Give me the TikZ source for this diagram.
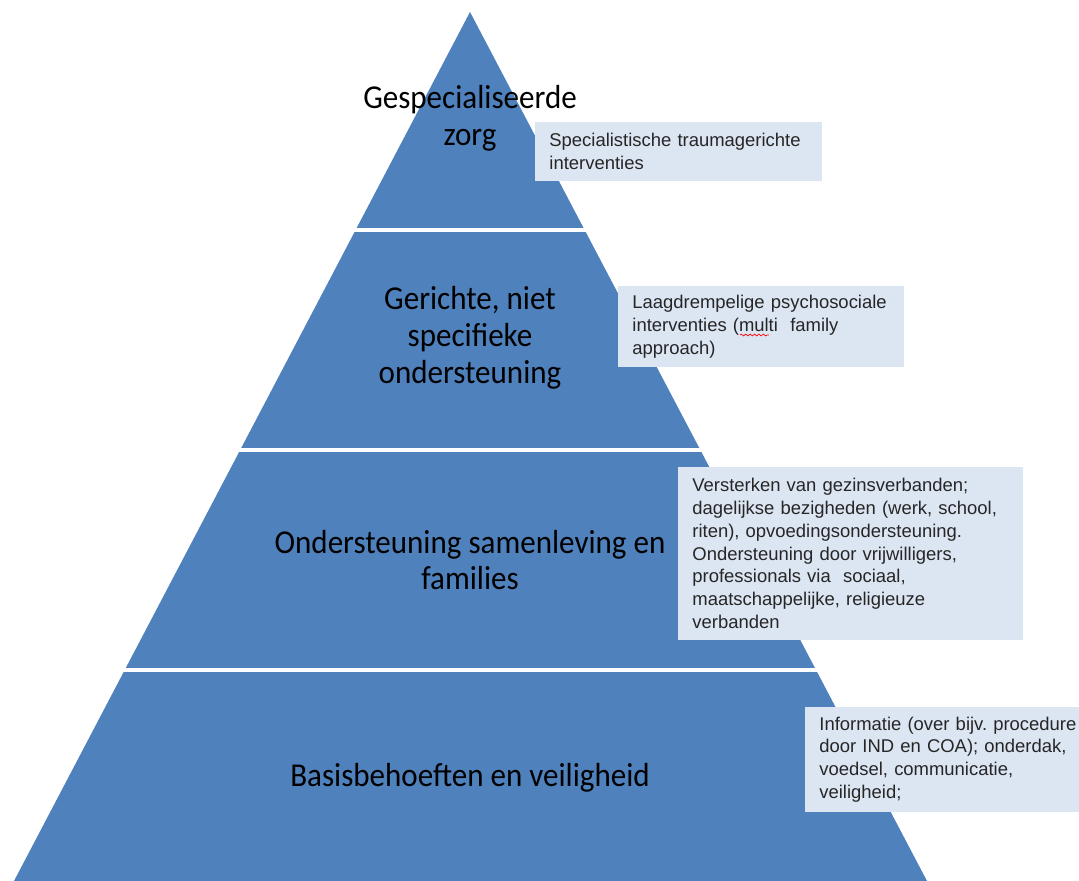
\documentclass[tikz,border=0pt]{standalone}
\usepackage{fontspec}
\setmainfont{Carlito}
\newfontfamily\labelfont[FakeStretch=0.93]{Carlito}
\newfontfamily\arialfont{Liberation Sans}
\newcommand{\boxfont}{\arialfont\fontsize{10.5}{13}\selectfont\frenchspacing\hyphenpenalty 10000\relax}
\usepackage{xcolor}
\usetikzlibrary{positioning,decorations.pathmorphing}
\definecolor{pyrblue}{HTML}{4F81BD}
\definecolor{boxblue}{HTML}{DCE6F2}

\begin{document}
\begin{tikzpicture}[x=0.02cm,y=-0.02cm,
    layer/.style={font=\labelfont\fontsize{19}{21}\selectfont, align=center, text=black},
    infobox/.style={fill=boxblue, anchor=west, align=left, inner xsep=8pt,
      font=\boxfont, text=black!85}]
    \useasboundingbox (0,0) rectangle (1079,881);
    \clip (0,0) rectangle (1079,881);
    % Pyramid: apex and base corners (pixels)
    \def\apexx{470}
    \def\apexy{12}
    \def\baseL{14}
    \def\baseR{927}
    \fill[pyrblue] (\apexx,\apexy) -- (\baseR,881) -- (\baseL,881) -- cycle;
    % gaps between the layers
    \foreach \y in {230,450,670}
      \draw[white, line width=1.8pt] (0,\y) -- (1079,\y);

    % Layer labels
    \node[layer] (zorg) at (\apexx,118) {Gespecialiseerde\\zorg};
    \node[layer] (gericht) at (\apexx,338) {Gerichte, niet\\specifieke\\ondersteuning};
    \node[layer] (samen) at (\apexx,560) {Ondersteuning samenleving en\\families};
    \node[layer] (basis) at (\apexx,778) {Basisbehoeften en veiligheid};

    % Side boxes
    \node[infobox, text width=5.18cm, minimum height=1.18cm] (trauma) at (535,151.5)
      {Specialistische traumagerichte\\interventies};
    \node[infobox, text width=5.16cm, minimum height=1.62cm] (psycho) at (618,326.5)
      {Laagdrempelige psychosociale\\interventies (multi\ \ family\\approach)};
    \node[infobox, text width=6.34cm, minimum height=3.46cm] (gezin) at (678,553.5)
      {Versterken van gezinsverbanden;\\dagelijkse bezigheden (werk, school,\\riten), opvoedingsondersteuning.\\Ondersteuning door vrijwilligers,\\professionals via\ \ sociaal,\\maatschappelijke, religieuze\\verbanden};
    \node[infobox, text width=5.6cm, minimum height=2.1cm] (info) at (805,759.5)
      {Informatie (over bijv. procedure\\door IND en COA); onderdak,\\voedsel, communicatie,\\veiligheid;};
    % spelling mark under 'multi'
    \draw[red, decorate, decoration={snake, amplitude=0.5pt, segment length=2.5pt}]
      (740,335) -- (769,335);
\end{tikzpicture}
\end{document}
